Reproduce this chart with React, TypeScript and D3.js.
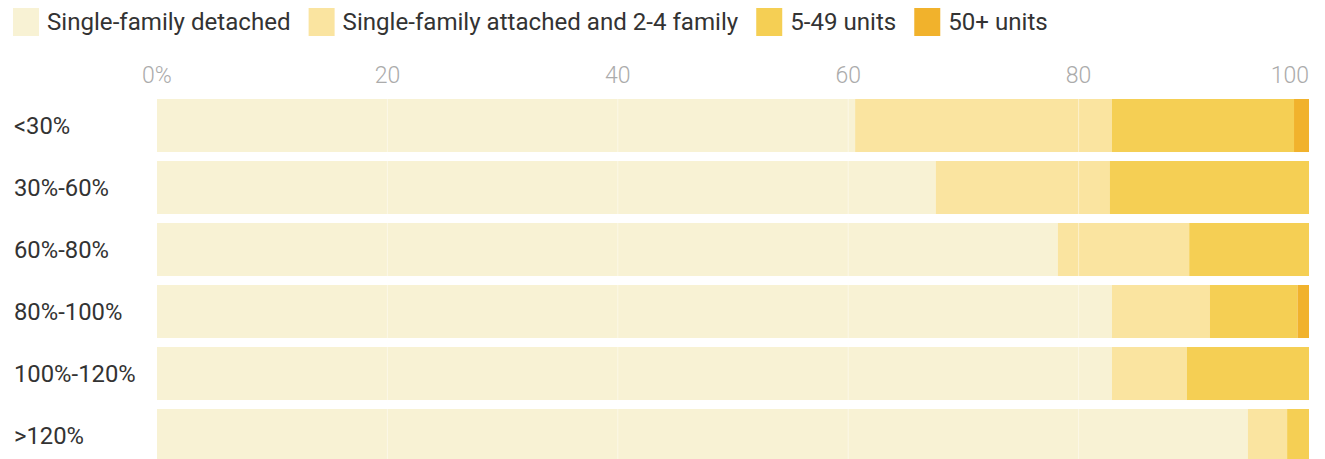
import React, { useEffect, useRef } from "react";
import * as d3 from "d3";

const categories = ["<30%", "30%-60%", "60%-80%", "80%-100%", "100%-120%", ">120%"];
const seriesNames = ["Single-family detached", "Single-family attached and 2-4 family", "5-49 units", "50+ units"];
const detached = [60.6, 67.6, 78.2, 82.9, 82.9, 94.7];
const attached = [22.3, 15.1, 11.4, 8.5, 6.5, 3.4];
const units5to49 = [15.8, 17.3, 10.4, 7.6, 10.6, 1.9];
const units50plus = [1.3, 0, 0, 1.0, 0, 0];
const tickValues = [0, 20, 40, 60, 80, 100];
const colors = ["#f8f2d4", "#fae4a0", "#f5cf54", "#f1b22c"];

export default function App() {
  const ref = useRef<SVGSVGElement>(null);
  useEffect(() => {
    const svg = d3.select(ref.current);
    svg.selectAll("*").remove();
    const font = "Roboto, sans-serif";
    const x = d3.scaleLinear().domain([0, 100]).range([157, 1309]);
    const pad = 0.145;
    const y = d3.scaleBand().domain(categories).range([99, 99 + 62 * (6 - pad)]).paddingInner(pad).paddingOuter(0);
    const series = [detached, attached, units5to49, units50plus];
    const table = categories.map((c, i) => {
      const row: any = { cat: c };
      seriesNames.forEach((s, k) => (row[s] = series[k][i]));
      return row;
    });
    const stacked = d3.stack().keys(seriesNames)(table);

    // legend
    const lg = svg.append("g");
    let lx = 13;
    seriesNames.forEach((s, k) => {
      lg.append("rect").attr("x", lx).attr("y", 8).attr("width", 26).attr("height", 28).attr("fill", colors[k]);
      const t = lg.append("text").attr("x", lx + 34).attr("y", 30).attr("font-family", font).attr("font-size", 24.1)
        .attr("fill", "#333").text(s);
      const w = (t.node() as SVGTextElement).getComputedTextLength();
      lx += 34 + w + 18;
    });

    // ticks
    svg.append("g").selectAll("text").data(tickValues).join("text")
      .attr("x", (d) => x(d)).attr("y", 83)
      .attr("text-anchor", (d) => (d === 100 ? "end" : "middle"))
      .attr("font-family", font).attr("font-size", 23).attr("font-weight", 300).attr("fill", "#ababab")
      .text((d) => (d === 0 ? "0%" : String(d)));

    // bars
    svg.append("g").selectAll("g").data(stacked).join("g").attr("fill", (_d, k) => colors[k])
      .selectAll("rect").data((d) => d).join("rect")
      .attr("x", (d) => x(d[0])).attr("width", (d) => Math.max(0, x(d[1]) - x(d[0])))
      .attr("y", (d) => y((d.data as any).cat)!).attr("height", y.bandwidth());

    // grid lines over bars
    svg.append("g").selectAll("line").data(tickValues.filter((v) => v > 0 && v < 100)).join("line")
      .attr("x1", (d) => x(d)).attr("x2", (d) => x(d)).attr("y1", 95).attr("y2", 459)
      .attr("stroke", "#ffffff").attr("stroke-opacity", 0.45).attr("stroke-width", 1);

    // category labels
    svg.append("g").selectAll("text").data(categories).join("text")
      .attr("x", 14).attr("y", (d) => y(d)! + y.bandwidth() / 2 + 8)
      .attr("font-family", font).attr("font-size", 23.8).attr("fill", "#333").text((d) => d);
  }, []);
  return (
    <svg ref={ref} width={1325} height={459} style={{ position: "absolute", left: 0, top: 0, background: "#fff" }} />
  );
}
